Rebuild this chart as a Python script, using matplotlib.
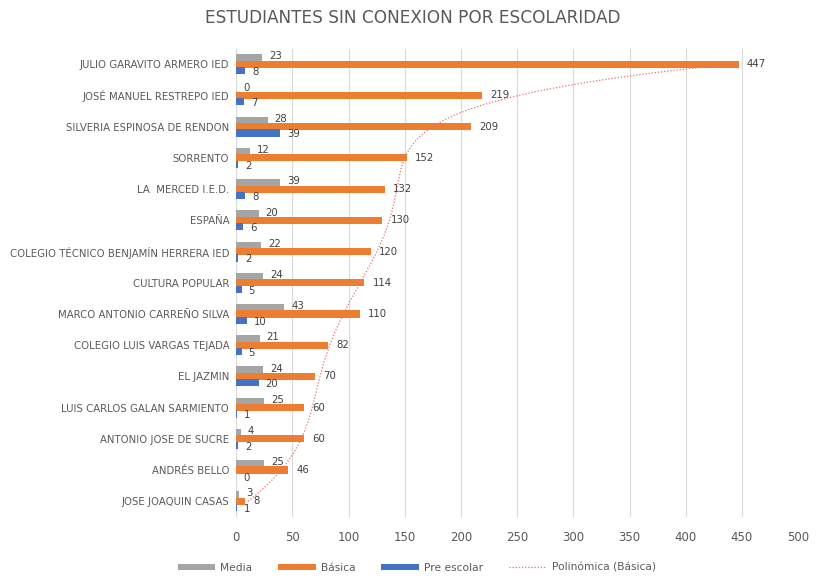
import matplotlib
matplotlib.use("Agg")
import matplotlib.pyplot as plt
from matplotlib.lines import Line2D
from matplotlib.patches import Patch
import numpy as np

# Schools, top to bottom as shown in the chart
schools = [
    "JULIO GARAVITO ARMERO IED",
    "JOSÉ MANUEL RESTREPO IED",
    "SILVERIA ESPINOSA DE RENDON",
    "SORRENTO",
    "LA  MERCED I.E.D.",
    "ESPAÑA",
    "COLEGIO TÉCNICO BENJAMÍN HERRERA IED",
    "CULTURA POPULAR",
    "MARCO ANTONIO CARREÑO SILVA",
    "COLEGIO LUIS VARGAS TEJADA",
    "EL JAZMIN",
    "LUIS CARLOS GALAN SARMIENTO",
    "ANTONIO JOSE DE SUCRE",
    "ANDRÉS BELLO",
    "JOSE JOAQUIN CASAS",
]
media = [23, 0, 28, 12, 39, 20, 22, 24, 43, 21, 24, 25, 4, 25, 3]
basica = [447, 219, 209, 152, 132, 130, 120, 114, 110, 82, 70, 60, 60, 46, 8]
pre_escolar = [8, 7, 39, 2, 8, 6, 2, 5, 10, 5, 20, 1, 2, 0, 1]

x_ticks = [0, 50, 100, 150, 200, 250, 300, 350, 400, 450, 500]

GRAY = "#A5A5A5"
ORANGE = "#ED7D31"
BLUE = "#4472C4"
TREND = "#E8706A"
TEXT = "#595959"

n = len(schools)
# row 0 is the bottom row (like Excel's category axis)
rows = np.arange(n)[::-1]

fig = plt.figure(figsize=(8.17, 5.86), dpi=100)
ax = fig.add_axes([0.289, 0.118, 0.688, 0.799])

bar_h = 0.23
off = 0.205

# Excel draws series in order: Media, Básica, Pre escolar
ax.barh(rows + off, media, height=bar_h, color=GRAY, zorder=2)
ax.barh(rows, basica, height=bar_h, color=ORANGE, zorder=3)
ax.barh(rows - off, pre_escolar, height=bar_h, color=BLUE, zorder=4)

# value labels to the right of each bar
for r, v in zip(rows, media):
    ax.annotate(str(v), (v, r + off), xytext=(5, 1), textcoords="offset points",
                ha="left", va="center", fontsize=7.3, color="#404040", zorder=6)
for r, v in zip(rows, basica):
    ax.annotate(str(v), (v, r), xytext=(6, 0), textcoords="offset points",
                ha="left", va="center", fontsize=7.3, color="#404040", zorder=6)
for r, v in zip(rows, pre_escolar):
    ax.annotate(str(v), (v, r - off), xytext=(5, -1), textcoords="offset points",
                ha="left", va="center", fontsize=7.3, color="#404040", zorder=6)

# Polynomial trendline on Básica (category index 1..n from the bottom)
idx = rows + 1
coef = np.polyfit(idx, basica, 6)
grid = np.linspace(1, n, 300)
ax.plot(np.polyval(coef, grid), grid - 1, color=TREND, linewidth=0.9,
        linestyle=(0, (1, 1.5)), zorder=5)

ax.set_xlim(0, 500)
ax.set_ylim(-0.5, n - 0.5)
ax.set_xticks(x_ticks)
ax.set_xticklabels([str(t) for t in x_ticks], fontsize=8.5, color=TEXT)
ax.set_yticks(rows)
ax.set_yticklabels(schools, fontsize=7.3, color=TEXT)
ax.tick_params(axis="both", length=0)
ax.tick_params(axis="x", pad=10)
ax.tick_params(axis="y", pad=5)

ax.grid(axis="x", color="#D9D9D9", linewidth=0.8, zorder=0)
ax.set_axisbelow(True)
for s in ax.spines.values():
    s.set_visible(False)

fig.suptitle("ESTUDIANTES SIN CONEXION POR ESCOLARIDAD", x=0.505, y=0.985,
             fontsize=12.2, color=TEXT)

handles = [
    Patch(facecolor=GRAY, label="Media"),
    Patch(facecolor=ORANGE, label="Básica"),
    Patch(facecolor=BLUE, label="Pre escolar"),
    Line2D([0], [0], color=TREND, linewidth=0.9, linestyle=(0, (1, 1.5)),
           label="Polinómica (Básica)"),
]
leg = fig.legend(handles=handles, loc="center", bbox_to_anchor=(0.51, 0.031),
                 ncol=4, frameon=False, fontsize=7.7, handlelength=3.5,
                 handleheight=0.55, columnspacing=2.4, handletextpad=0.5)
for t in leg.get_texts():
    t.set_color(TEXT)

fig.savefig("out.png", dpi=100)
